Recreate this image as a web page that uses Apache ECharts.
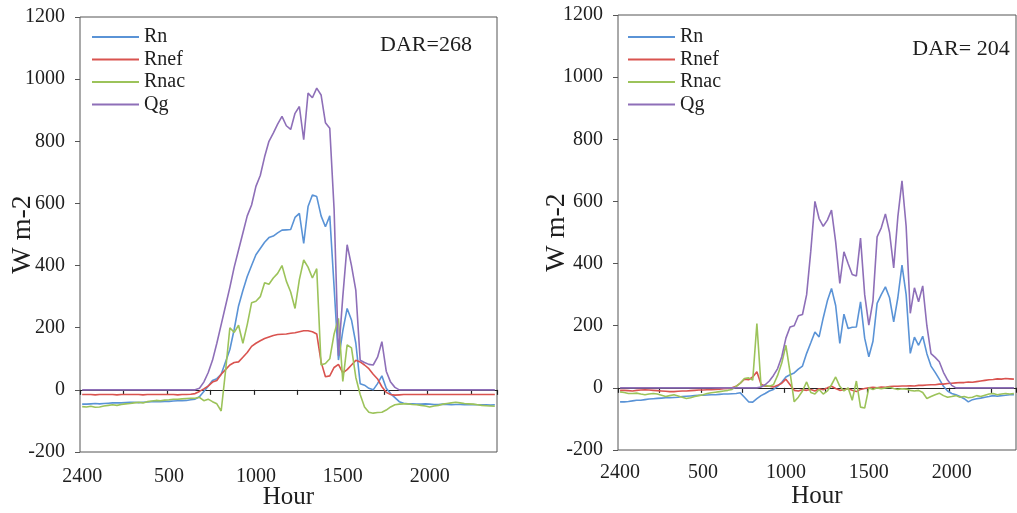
<!DOCTYPE html>
<html><head><meta charset="utf-8">
<script src="https://cdn.jsdelivr.net/npm/echarts@6/dist/echarts.min.js"></script>
<style>html,body{margin:0;padding:0;background:#fff}#c{width:1017px;height:513px}</style>
</head><body><div id="c"></div>
<script>
// Quarter-hour categories (Excel-style category axis, points centred in their slots)
const categories = ['2400','15','30','45','100','115','130','145','200','215','230','245',
'300','315','330','345','400','415','430','445','500','515','530','545',
'600','615','630','645','700','715','730','745','800','815','830','845',
'900','915','930','945','1000','1015','1030','1045','1100','1115','1130','1145',
'1200','1215','1230','1245','1300','1315','1330','1345','1400','1415','1430','1445',
'1500','1515','1530','1545','1600','1615','1630','1645','1700','1715','1730','1745',
'1800','1815','1830','1845','1900','1915','1930','1945','2000','2015','2030','2045',
'2100','2115','2130','2145','2200','2215','2230','2245','2300','2315','2330','2345'];
const tickLabels = ['2400','500','1000','1500','2000'];
const yTicks = [-200,0,200,400,600,800,1000,1200];
const seriesNames = ['Rn','Rnef','Rnac','Qg'];
const darLabels = ['DAR=268','DAR= 204'];

// ---- Left panel (DAR=268) ----
const rnA = [-46,-46,-45,-44,-45,-44,-43,-42,-42,-42,-41,-40,-40,-41,-40,-39,-38,-38,-38,-37,-37,-36,-35,-35,-34,-32,
-30,-22,-5,12,30,36,50,90,130,195,270,320,365,400,435,455,475,490,495,505,514,515,516,555,568,471,590,627,622,560,525,560,330,96,190,262,225,150,20,15,5,0,20,45,5,-12,-25,-38,-43,
-45,-45,-46,-46,-45,-46,-47,-47,-46,-47,-48,-47,-47,-48,-48,-47,-48,-48,-48,-49,-48];
const rnefA = [-15,-15,-15,-16,-15,-15,-15,-15,-16,-15,-15,-15,-15,-15,-16,-15,-15,-15,-15,-15,-15,-15,-16,-15,-15,-14,
-12,-5,3,12,25,30,50,65,80,88,90,105,120,140,150,158,165,170,175,178,179,180,182,184,187,190,190,187,180,90,42,45,72,82,55,65,80,95,90,80,68,50,35,10,-8,-15,-17,
-16,-15,-15,-15,-15,-15,-15,-15,-15,-15,-15,-15,-15,-15,-15,-15,-15,-15,-15,-15,-15,-15,-15];
const rnacA = [-54,-55,-53,-56,-55,-52,-50,-48,-50,-47,-45,-44,-42,-40,-42,-38,-36,-34,-35,-33,-32,-30,-30,-29,-28,-27,
-27,-24,-35,-30,-38,-45,-68,60,200,185,208,150,210,280,285,300,345,340,360,375,400,350,315,262,355,418,395,360,390,80,85,100,180,230,27,145,135,40,-15,-55,-72,-75,-73,-72,-65,-55,-48,-46,
-45,-45,-47,-48,-50,-52,-55,-52,-50,-46,-44,-42,-40,-42,-44,-45,-46,-48,-50,-51,-52,-53];
const qgA = [0,0,0,0,0,0,0,0,0,0,0,0,0,0,0,0,0,0,0,0,0,0,0,0,0,0,0,
5,25,55,95,150,210,270,330,395,450,505,560,595,655,690,750,800,826,855,880,850,838,890,912,805,955,940,971,949,860,842,580,110,300,467,400,320,95,88,82,80,105,155,60,25,8,
0,0,0,0,0,0,0,0,0,0,0,0,0,0,0,0,0,0,0,0,0,0,0];

// ---- Right panel (DAR=204) ----
const rnB = [-45,-45,-44,-42,-40,-40,-38,-36,-35,-34,-33,-32,-32,-31,-30,-28,-27,-26,-25,-24,-24,-23,-22,-22,-21,-20,-20,-19,
-18,-16,-30,-45,-46,-35,-25,-18,-10,-5,5,18,35,42,48,60,70,111,145,180,164,225,280,320,265,143,237,191,195,196,277,160,100,150,272,300,325,290,212,290,395,300,111,163,137,166,110,70,50,28,5,-10,
-18,-22,-28,-35,-45,-38,-35,-33,-30,-28,-25,-27,-25,-24,-22,-22];
const rnefB = [-8,-8,-9,-10,-8,-7,-6,-7,-8,-9,-10,-11,-12,-12,-11,-10,-10,-9,-8,-7,-7,-6,-6,-5,-4,-3,
-2,0,5,15,28,26,35,52,12,5,5,3,8,15,28,10,-8,-10,-6,-8,-5,-10,-3,-6,0,5,-2,-8,-6,-3,-8,-12,-5,-2,0,2,0,3,2,4,5,5,6,6,7,6,8,8,9,10,10,12,12,14,
15,16,17,17,19,18,20,22,24,26,27,29,28,30,29,28];
const rnacB = [-13,-15,-18,-18,-17,-20,-22,-20,-18,-20,-24,-28,-25,-22,-26,-30,-34,-32,-28,-25,-22,-18,-16,-14,-12,-10,
-8,-5,5,15,30,32,25,207,5,8,5,10,40,80,137,50,-45,-30,-10,19,-15,-20,-5,-20,-10,10,35,5,-10,0,-40,22,-62,-65,0,-5,0,-3,0,2,-2,-5,-3,-4,-8,-10,-8,-15,-34,-28,-22,-17,-25,-30,
-28,-25,-30,-28,-32,-30,-25,-28,-24,-20,-18,-22,-20,-18,-20,-18];
const qgB = [0,0,0,0,0,0,0,0,0,0,0,0,0,0,0,0,0,0,0,0,0,0,0,0,0,0,0,0,0,0,0,0,0,0,
3,10,22,40,62,100,160,196,200,232,236,300,440,600,545,520,540,572,470,336,438,400,365,360,482,300,202,280,486,515,560,500,386,550,666,520,240,322,277,328,200,110,98,84,50,25,8,
0,0,0,0,0,0,0,0,0,0,0,0,0,0,0];

const panels = [
  {data:[rnA, rnefA, rnacA, qgA], grid:{left:80, top:17, width:417, height:435}, labelMargin:15, nameGap:33, yNameGap:43, legendLeft:92, dar:{x:426, y:45}},
  {data:[rnB, rnefB, rnacB, qgB], grid:{left:618, top:15, width:398, height:435}, labelMargin:13, nameGap:34, yNameGap:47, legendLeft:628, dar:{x:961, y:49}}
];

const SERIF = "'Liberation Serif','Times New Roman',serif";
const colors = ['#5a93d6','#d9534f','#9cc35a','#8e6fb8'];
const TXT = '#1e1e1e';

const grids = [], xAxes = [], yAxes = [], series = [], legends = [], graphics = [];
panels.forEach((p, k) => {
  grids.push(Object.assign({show:true, borderColor:'#555', borderWidth:1, backgroundColor:'rgba(0,0,0,0)',
    containLabel:false, outerBoundsMode:'none'}, p.grid));
  // axis line + ticks crossing at y = 0
  xAxes.push({
    type:'category', gridIndex:k, data:categories, boundaryGap:true, position:'bottom',
    axisLine:{show:true, onZero:true, lineStyle:{color:'#222', width:1.2}},
    axisTick:{show:true, interval:9, length:5, lineStyle:{color:'#222', width:1.2}},
    axisLabel:{show:false}, splitLine:{show:false}
  });
  // tick labels + axis title along the bottom of the frame
  xAxes.push({
    type:'category', gridIndex:k, data:categories, boundaryGap:true, position:'bottom',
    axisLine:{show:false, onZero:false}, axisTick:{show:false}, splitLine:{show:false},
    axisLabel:{interval:19, fontFamily:SERIF, fontSize:20, color:TXT, margin:p.labelMargin,
      formatter: v => tickLabels.indexOf(v) >= 0 ? v : ''},
    name:'Hour', nameLocation:'middle', nameGap:p.nameGap, nameMoveOverlap:false,
    nameTextStyle:{fontFamily:SERIF, fontSize:25, color:TXT}
  });
  yAxes.push({
    type:'value', gridIndex:k, min:yTicks[0], max:yTicks[yTicks.length-1], interval:200,
    axisLine:{show:false, onZero:false}, axisTick:{show:true, length:5, lineStyle:{color:'#555'}},
    splitLine:{show:false},
    axisLabel:{fontFamily:SERIF, fontSize:20, color:TXT, margin:15, formatter: v => String(v)},
    name:'W m-2', nameLocation:'middle', nameGap:p.yNameGap, nameMoveOverlap:false,
    nameTextStyle:{fontFamily:SERIF, fontSize:28, color:TXT}
  });
  seriesNames.forEach((n, j) => {
    series.push({
      type:'line', name:n, xAxisIndex:2*k, yAxisIndex:k, data:p.data[j],
      symbol:'none', showSymbol:false, animation:false,
      lineStyle:{width:1.6, color:colors[j]}, itemStyle:{color:colors[j]}
    });
  });
  legends.push({
    left:p.legendLeft, top:27, orient:'vertical', padding:0, itemWidth:47, itemHeight:2, itemGap:2.5,
    icon:'rect', selectedMode:false, data:seriesNames,
    textStyle:{fontFamily:SERIF, fontSize:20, color:TXT, lineHeight:20}
  });
  graphics.push({
    type:'text', x:p.dar.x, y:p.dar.y,
    style:{text:darLabels[k], fontFamily:SERIF, fontSize:22, fill:TXT, align:'center', verticalAlign:'middle'}
  });
});

const chart = echarts.init(document.getElementById('c'));
chart.setOption({
  animation:false,
  backgroundColor:'#fff',
  color:colors,
  grid:grids, xAxis:xAxes, yAxis:yAxes, series:series, legend:legends, graphic:graphics
});
</script></body></html>
